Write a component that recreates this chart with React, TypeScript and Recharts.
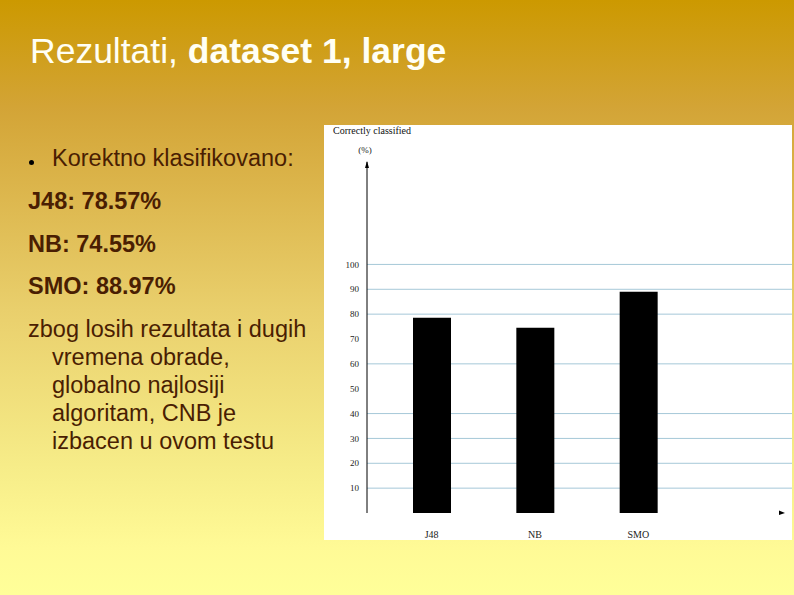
import { Bar, BarChart, CartesianGrid, XAxis, YAxis } from 'recharts';

// Correctly classified (%) per algorithm, dataset 1 / large
const CATEGORIES = ['J48', 'NB', 'SMO'];
const CORRECTLY_CLASSIFIED = [78.57, 74.55, 88.97];
const Y_TICKS = [10, 20, 30, 40, 50, 60, 70, 80, 90, 100];
// the source picture only shows these gridlines (50 and 70 are missing)
const GRID_VALUES = [10, 20, 30, 40, 60, 80, 90, 100];

const data = CATEGORIES.map((name, i) => ({ name, value: CORRECTLY_CLASSIFIED[i] }));

const SANS = '"Liberation Sans", Arial, sans-serif';
const SERIF = '"Liberation Serif", "Times New Roman", serif';
const TEXT = '#4a1e02';

// slide text: baseline y, left x
const BODY_LINES: Array<{ text: string; x: number; baseline: number; bold?: boolean }> = [
  { text: 'Korektno klasifikovano:', x: 52, baseline: 166.5 },
  { text: 'J48: 78.57%', x: 28, baseline: 209.5, bold: true },
  { text: 'NB: 74.55%', x: 28, baseline: 252, bold: true },
  { text: 'SMO: 88.97%', x: 28, baseline: 294, bold: true },
  { text: 'zbog losih rezultata i dugih', x: 28, baseline: 337 },
  { text: 'vremena obrade,', x: 52, baseline: 365 },
  { text: 'globalno najlosiji', x: 52, baseline: 393 },
  { text: 'algoritam, CNB je', x: 52, baseline: 421 },
  { text: 'izbacen u ovom testu', x: 52, baseline: 449 },
];

function YArrow({ viewBox }: any) {
  if (!viewBox) return null;
  const x = viewBox.x + viewBox.width;
  const y = viewBox.y;
  return (
    <g>
      <line x1={x} y1={y} x2={x} y2={y - 3} stroke="#000" />
      <path d={`M${x - 2},${y + 3} L${x},${y - 4} L${x + 2},${y + 3} Z`} fill="#000" />
      <text x={x - 2} y={y - 12} textAnchor="middle" fontSize={9} fontFamily={SERIF} fill="#222">
        (%)
      </text>
    </g>
  );
}

function XArrow({ viewBox }: any) {
  if (!viewBox) return null;
  const x = viewBox.x + viewBox.width - 10;
  const y = viewBox.y;
  return <path d={`M${x - 3},${y - 2.5} L${x + 3},${y} L${x - 3},${y + 2} Z`} fill="#000" />;
}

export default function App() {
  return (
    <div
      style={{
        position: 'absolute',
        left: 0,
        top: 0,
        width: 794,
        height: 595,
        overflow: 'hidden',
        background:
          'linear-gradient(180deg, #cc9900 0%, #d3a436 18%, #e9cf6c 52%, #f6ec88 78%, #fffa96 92%, #ffff99 100%)',
        fontFamily: SANS,
      }}
    >
      <div
        style={{
          position: 'absolute',
          left: 30,
          top: 31,
          fontSize: 35.5,
          lineHeight: '40px',
          color: '#fffff4',
          whiteSpace: 'nowrap',
        }}
      >
        Rezultati, <b>dataset 1, large</b>
      </div>

      <div
        style={{
          position: 'absolute',
          left: 29,
          top: 160,
          width: 5,
          height: 5,
          borderRadius: '50%',
          background: '#000',
        }}
      />
      {BODY_LINES.map((l) => (
        <div
          key={l.text}
          style={{
            position: 'absolute',
            left: l.x,
            top: l.baseline - 22.1,
            fontSize: 23.5,
            lineHeight: '28px',
            fontWeight: l.bold ? 700 : 400,
            color: TEXT,
            whiteSpace: 'nowrap',
          }}
        >
          {l.text}
        </div>
      ))}

      <div
        style={{
          position: 'absolute',
          left: 324,
          top: 125,
          width: 468,
          height: 415,
          background: '#fff',
        }}
      >
        <div
          style={{
            position: 'absolute',
            left: 9,
            top: 0,
            fontFamily: SERIF,
            fontSize: 10,
            lineHeight: '12px',
            color: '#111',
            whiteSpace: 'nowrap',
          }}
        >
          Correctly classified
        </div>
        <BarChart width={468} height={415} data={data} margin={{ top: 40, right: 0, left: 0, bottom: 0 }}>
          <CartesianGrid vertical={false} horizontalValues={GRID_VALUES} stroke="#a6c8d8" />
          <XAxis
            dataKey="name"
            axisLine={false}
            tickLine={false}
            height={27}
            padding={{ left: 13, right: 102 }}
            tickMargin={12}
            tick={{ fontSize: 10, fontFamily: SERIF, fill: '#222' }}
            label={<XArrow />}
          />
          <YAxis
            width={43}
            domain={[0, 140]}
            ticks={Y_TICKS}
            tickLine={false}
            axisLine={{ stroke: '#000' }}
            tick={{ fontSize: 9, fontFamily: SERIF, fill: '#222' }}
            label={<YArrow />}
          />
          <Bar dataKey="value" fill="#000" barSize={38} isAnimationActive={false} />
        </BarChart>
      </div>
    </div>
  );
}
